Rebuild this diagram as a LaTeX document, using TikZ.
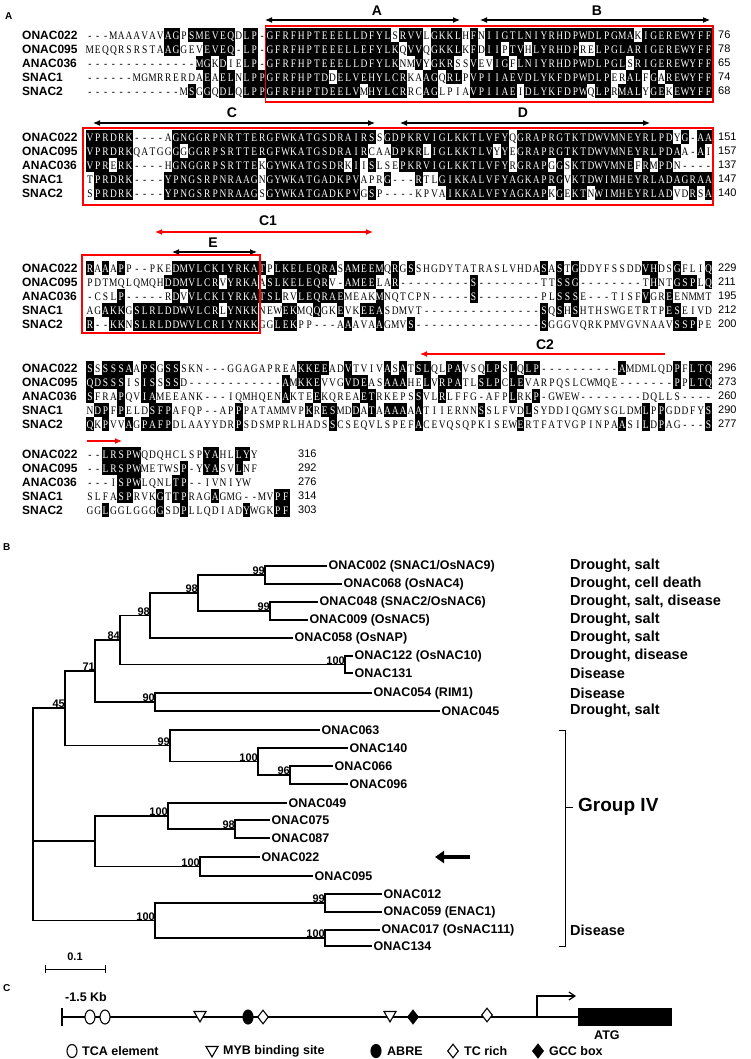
\documentclass[tikz,border=0pt]{standalone}
\usepackage{fontspec}
\setmainfont{Liberation Sans}
\newfontfamily\seqfont[FakeStretch=0.82]{Liberation Serif}
\usetikzlibrary{arrows.meta,shapes.geometric}
\newcount\sqcol
\newcount\sqmatch
\makeatletter
\def\sq@dash{-}
\def\storeseq#1#2{\sqcol=0 \def\sq@key{#1}\sq@store#2\relax}
\def\sq@store#1{%
  \ifx#1\relax
  \else
    \expandafter\xdef\csname s@\sq@key @\the\sqcol\endcsname{#1}%
    \global\advance\sqcol by 1
    \expandafter\sq@store
  \fi}
% #1 block key, #2 x0, #3 y0, #4 ncols
\def\drawblock#1#2#3#4{%
  \foreach \r in {1,...,5}{%
    \foreach \c in {0,...,#4}{%
      \expandafter\let\expandafter\cur\csname s@#1\r @\c\endcsname
      \ifx\cur\relax\else
        \global\sqmatch=0
        \foreach \rr in {1,...,5}{%
          \ifnum\rr=\r\else
            \expandafter\ifx\csname s@#1\rr @\c\endcsname\cur
              \global\advance\sqmatch by 1
            \fi
          \fi}%
        \ifx\cur\sq@dash \global\sqmatch=0 \fi
        \ifnum\sqmatch>0
          \fill[black] ({#2+\c*7.83},{#3+(\r-1)*14-7}) rectangle ++(7.83,14);
          \node[res,text=white] at ({#2+\c*7.83+3.915},{#3+(\r-1)*14+4.2}) {\cur};
        \else
          \node[res] at ({#2+\c*7.83+3.915},{#3+(\r-1)*14+4.2}) {\cur};
        \fi
      \fi}}}
\makeatother
% ---------- sequences ----------
\storeseq{a1}{---MAAAVAVAGPSMEVEQDLP-GFRFHPTEEELLDFYLSRVVLGKKLHFNIIGTLNIYRHDPWDLPGMAKIGEREWYFF}
\storeseq{a2}{MEQQRSRSTAAGGEVEVEQ-LP-GFRFHPTEEELLEFYLKQVVQGKKLKFDIIPTVHLYRHDPRELPGLARIGEREWYFF}
\storeseq{a3}{--------------MGKDIELP-GFRFHPTEEELLDFYLKNMVYGKRSSVEVIGFLNIYRHDPWDLPGLSRIGEREWYFF}
\storeseq{a4}{------MGMRRERDAEAELNLPPGFRFHPTDDELVEHYLCRKAAGQRLPVPIIAEVDLYKFDPWDLPERALFGAREWYFF}
\storeseq{a5}{------------MSGGQDLQLPPGFRFHPTDEELVMHYLCRRCAGLPIAVPIIAEIDLYKFDPWQLPRMALYGEKEWYFF}
\storeseq{b1}{VPRDRK----AGNGGRPNRTTERGFWKATGSDRAIRSSGDPKRVIGLKKTLVFYQGRAPRGTKTDWVMNEYRLPDYG-AA}
\storeseq{b2}{VPRDRKQATGGGGGGRPSRTTERGFWKATGSDRAIRCAADPKRLIGLKKTLVYYEGRAPRGTKTDWVMNEYRLPDAA-AI}
\storeseq{b3}{VPRERK----HGNGGRPSRTTEKGYWKATGSDRKIISLSEPKRVIGLKKTLVFYRGRAPGGSKTDWVMNEFRMPDN----}
\storeseq{b4}{TPRDRK----YPNGSRPNRAAGNGYWKATGADKPVAPRG---RTLGIKKALVFYAGKAPRGVKTDWIMHEYRLADAGRAA}
\storeseq{b5}{SPRDRK----YPNGSRPNRAAGSGYWKATGADKPVGSP----KPVAIKKALVFYAGKAPKGEKTNWIMHEYRLADVDRSA}
\storeseq{c1}{RAAAPP--PKEDMVLCKIYRKATPLKELEQRASAMEEMQRGSSHGDYTATRASLVHDASASTGDDYFSSDDVHDSGFLIQ}
\storeseq{c2}{PDTMQLQMQHDDMVLCRVYRKAASLKELEQRV-AMEELAR---------S--------TTSSG--------THNTGSPLQ}
\storeseq{c3}{-CSLP-----RDVVLCKIYRKATSLRVLEQRAEMEAKMNQTCPN-----S--------PLSSSE---TISFVGREENMMT}
\storeseq{c4}{AGAKKGSLRLDDWVLCRLYNKKNEWEKMQQGKEVKEEASDMVT---------------SQSHSHTHSWGETRTPESEIVD}
\storeseq{c5}{R--KKNSLRLDDWVLCRIYNKKGGLEKPP---AAAVAAGMVS----------------SGGGVQRKPMVGVNAAVSSPPE}
\storeseq{d1}{SSSSSAAPSGSSSKN---GGAGAPREAKKEEADVTVIVASATSLQLPAVSQLPSLQLP----------AMDMLQDPFLTQ}
\storeseq{d2}{QDSSSISISSSSD------------AMKKEVVGVDEASAAAHELVRPATLSLPCLEVARPQSLCWMQE-------PPLTQ}
\storeseq{d3}{SFRAPQVIAMEEANK---IQMHQENAKTEEKQREAETRKEPSSVLRLFFG-AFPLRKP-GWEW--------DQLLS-----}
\storeseq{d4}{NDPFPELDSFPAFQP--APPPATAMMVPKRESMDDATAAAAAATIIERNNSSLFVDLSYDDIQGMYSGLDMLPPGDDFYS}
\storeseq{d5}{QKPVVAGPAFPDLAAYYDRPSDSMPRLHADSSCSEQVLSPEFACEVQSQPKISEWERTFATVGPINPAASILDPAG---S}
\storeseq{e1}{--LRSPWQDQHCLSPYAHLLYY}
\storeseq{e2}{--LRSPWMETWSP-YYASVLNF}
\storeseq{e3}{---ISPWLQNLTP--IVNIYW}
\storeseq{e4}{SLFASPRVKGTTPRAGAGMG--MVPF}
\storeseq{e5}{GGLGGLGGGGSDPLLQDIADYWGKPF}
\begin{document}
\begin{tikzpicture}[x=1pt,y=-1pt,
  res/.style={font=\seqfont\fontsize{11.5}{12}\selectfont,inner sep=0pt,anchor=base},
  nm/.style={font=\bfseries\fontsize{12}{13}\selectfont,inner sep=0pt,anchor=west},
  num/.style={font=\fontsize{11}{12}\selectfont,inner sep=0pt,anchor=west},
  dom/.style={font=\bfseries\fontsize{14}{15}\selectfont,inner sep=0pt},
  panel/.style={font=\bfseries\fontsize{10}{11}\selectfont,inner sep=0pt,anchor=west},
  darr/.style={line width=1.1pt,{Latex[length=7pt,width=6pt]}-{Latex[length=7pt,width=6pt]}},
  rbox/.style={draw=red,line width=1.2pt},
  br/.style={line width=1.1pt},
  leaf/.style={font=\bfseries\fontsize{12.5}{13}\selectfont,inner sep=1.5pt,anchor=west},
  trait/.style={font=\bfseries\fontsize{14.5}{15}\selectfont,inner sep=0pt,anchor=west},
  bs/.style={font=\bfseries\fontsize{11}{12}\selectfont,inner sep=0pt},
  lg/.style={font=\bfseries\fontsize{12.5}{13}\selectfont,inner sep=0pt,anchor=west},
  sym/.style={line width=1.1pt,draw=black,fill=white,inner sep=0pt},
  tri/.style={sym,isosceles triangle,shape border rotate=-90,isosceles triangle apex angle=60,minimum width=12pt},
  circ/.style={sym,ellipse,minimum width=10pt,minimum height=14pt},
  dia/.style={sym,diamond,minimum width=11pt,minimum height=14pt},
]
\useasboundingbox[fill=white] (0,0) rectangle (750,1059);
% ================= Panel A =================
\node[panel] (pA) at (5,16) {A};
% block 1
\foreach \n/\t [count=\i from 0] in {a1/ONAC022,a2/ONAC095,a3/ANAC036,a4/SNAC1,a5/SNAC2}{
  \node[nm] (\n) at (22,35+\i*14) {\t};}
\drawblock{a}{86}{35}{79}
\foreach \n/\t [count=\i from 0] in {an1/76,an2/78,an3/65,an4/74,an5/68}{
  \node[num] (\n) at (718,35+\i*14) {\t};}
\draw[rbox] (265.5,26) rectangle (713,102);
\coordinate (A1) at (265,20); \coordinate (A2) at (460,20);
\draw[darr] (A1) -- (A2);
\node[dom] (lA) at (377,11) {A};
\coordinate (B1) at (480,20); \coordinate (B2) at (710,20);
\draw[darr] (B1) -- (B2);
\node[dom] (lB) at (597,11) {B};
% block 2
\foreach \n/\t [count=\i from 0] in {b1/ONAC022,b2/ONAC095,b3/ANAC036,b4/SNAC1,b5/SNAC2}{
  \node[nm] (\n) at (22,137+\i*14) {\t};}
\drawblock{b}{86}{137}{79}
\foreach \n/\t [count=\i from 0] in {bn1/151,bn2/157,bn3/137,bn4/147,bn5/140}{
  \node[num] (\n) at (718,137+\i*14) {\t};}
\draw[rbox] (83,128) rectangle (713,205);
\coordinate (C1a) at (93,123); \coordinate (C1b) at (375,123);
\draw[darr] (C1a) -- (C1b);
\node[dom] (lC) at (232,113) {C};
\coordinate (D1) at (400,123); \coordinate (D2) at (650,123);
\draw[darr] (D1) -- (D2);
\node[dom] (lD) at (523,113) {D};
% block 3
\foreach \n/\t [count=\i from 0] in {c1/ONAC022,c2/ONAC095,c3/ANAC036,c4/SNAC1,c5/SNAC2}{
  \node[nm] (\n) at (22,268+\i*14) {\t};}
\drawblock{c}{86}{268}{79}
\foreach \n/\t [count=\i from 0] in {cn1/229,cn2/211,cn3/195,cn4/212,cn5/200}{
  \node[num] (\n) at (718,268+\i*14) {\t};}
\draw[rbox] (82,255) rectangle (260,333);
\coordinate (E1) at (172,252); \coordinate (E2) at (257,252);
\draw[darr] (E1) -- (E2);
\node[dom] (lE) at (213,243) {E};
\coordinate (CA) at (155,232); \coordinate (CB) at (373,232);
\draw[darr,red] (CA) -- (CB);
\node[dom] (lC1) at (268,221) {C1};
% block 4
\foreach \n/\t [count=\i from 0] in {d1/ONAC022,d2/ONAC095,d3/ANAC036,d4/SNAC1,d5/SNAC2}{
  \node[nm] (\n) at (22,368+\i*14) {\t};}
\drawblock{d}{86}{368}{79}
\foreach \n/\t [count=\i from 0] in {dn1/296,dn2/273,dn3/260,dn4/290,dn5/277}{
  \node[num] (\n) at (718,368+\i*14) {\t};}
\coordinate (C2a) at (665,354); \coordinate (C2b) at (420,354);
\draw[line width=1.1pt,red,-{Latex[length=7pt,width=6pt]}] (C2a) -- (C2b);
\node[dom] (lC2) at (545,345) {C2};
% block 5
\foreach \n/\t [count=\i from 0] in {e1/ONAC022,e2/ONAC095,e3/ANAC036,e4/SNAC1,e5/SNAC2}{
  \node[nm] (\n) at (22,454+\i*14) {\t};}
\drawblock{e}{86}{454}{25}
\foreach \n/\t [count=\i from 0] in {en1/316,en2/292,en3/276,en4/314,en5/303}{
  \node[num] (\n) at (298,454+\i*14) {\t};}
\coordinate (C3a) at (87,441); \coordinate (C3b) at (122,441);
\draw[line width=1.1pt,red,-{Latex[length=7pt,width=6pt]}] (C3a) -- (C3b);
% ================= Panel B =================
\node[panel] (pB) at (3,547) {B};
\foreach \n/\y/\x/\t in {
 L1/566/327/{ONAC002 (SNAC1/OsNAC9)}, L2/584/342/{ONAC068 (OsNAC4)},
 L3/602/318/{ONAC048 (SNAC2/OsNAC6)}, L4/620/308/{ONAC009 (OsNAC5)},
 L5/638/293/{ONAC058 (OsNAP)}, L6/656/353/{ONAC122 (OsNAC10)},
 L7/673/353/{ONAC131}, L8/693/372/{ONAC054 (RIM1)}, L9/711/440/{ONAC045},
 L10/730/320/{ONAC063}, L11/748/348/{ONAC140}, L12/766/333/{ONAC066},
 L13/784/348/{ONAC096}, L14/803/287/{ONAC049}, L15/820/270/{ONAC075},
 L16/838/270/{ONAC087}, L17/857/260/{ONAC022}, L18/876/313/{ONAC095},
 L19/894/382/{ONAC012}, L20/912/382/{ONAC059 (ENAC1)},
 L21/930/380/{ONAC017 (OsNAC111)}, L22/946/372/{ONAC134}}{
  \node[leaf] (\n) at (\x,\y) {\t};}
\foreach \n/\t in {L1/{Drought, salt},L2/{Drought, cell death},L3/{Drought, salt, disease},
  L4/{Drought, salt},L5/{Drought, salt},L6/{Drought, disease},L7/{Disease},
  L8/{Disease},L9/{Drought, salt},L21/{Disease}}{
  \node[trait] (t\n) at (570,0 |- \n.west) {\t};}
% internal nodes
\coordinate (n1) at (265,575);
\coordinate (n2) at (270,611);
\coordinate (n3) at (198,593);
\coordinate (n4) at (150,615.5);
\coordinate (n5) at (345,664.5);
\coordinate (n6) at (120,640);
\coordinate (n7) at (155,702);
\coordinate (n8) at (95,671);
\coordinate (n9) at (290,775);
\coordinate (n10) at (258,761.5);
\coordinate (n11) at (170,745.75);
\coordinate (n12) at (65,708);
\coordinate (n13) at (235,829);
\coordinate (n14) at (168,816);
\coordinate (n15) at (200,866.5);
\coordinate (n16) at (95,841);
\coordinate (n17) at (325,903);
\coordinate (n18) at (325,938);
\coordinate (n19) at (155,920.5);
\coordinate (n20) at (33,800);
\begin{scope}[br]
\draw (n1) |- (L1.west); \draw (n1) |- (L2.west);
\draw (n2) |- (L3.west); \draw (n2) |- (L4.west);
\draw (n3) |- (n1); \draw (n3) |- (n2);
\draw (n4) |- (n3); \draw (n4) |- (L5.west);
\draw (n5) |- (L6.west); \draw (n5) |- (L7.west);
\draw (n6) |- (n4); \draw (n6) |- (n5);
\draw (n7) |- (L8.west); \draw (n7) |- (L9.west);
\draw (n8) |- (n6); \draw (n8) |- (n7);
\draw (n9) |- (L12.west); \draw (n9) |- (L13.west);
\draw (n10) |- (L11.west); \draw (n10) |- (n9);
\draw (n11) |- (L10.west); \draw (n11) |- (n10);
\draw (n12) |- (n8); \draw (n12) |- (n11);
\draw (n13) |- (L15.west); \draw (n13) |- (L16.west);
\draw (n14) |- (L14.west); \draw (n14) |- (n13);
\draw (n15) |- (L17.west); \draw (n15) |- (L18.west);
\draw (n16) |- (n14); \draw (n16) |- (n15);
\draw (n17) |- (L19.west); \draw (n17) |- (L20.west);
\draw (n18) |- (L21.west); \draw (n18) |- (L22.west);
\draw (n19) |- (n17); \draw (n19) |- (n18);
\draw (n20) |- (n12); \draw (n20) |- (n16); \draw (n20) |- (n19);
\end{scope}
\foreach \n/\t in {n1/99,n3/98,n4/98,n2/99,n6/84,n5/100,n8/71,n7/90,n12/45,n11/99,n10/100,n9/96,n14/100,n13/98,n15/100,n17/99,n19/100,n18/100}{
  \node[bs,anchor=south east] at (\n) {\t};}
\coordinate (ar1) at (470,857); \coordinate (ar2) at (435,857);
\draw[line width=4pt,-{Triangle[length=9pt,width=12pt]}] (ar1) -- (ar2);
\coordinate (g1) at (565,730); \coordinate (g2) at (565,946);
\draw[line width=1pt] ([xshift=-6pt]g1) -- (g1) -- (g2) -- ([xshift=-6pt]g2);
\coordinate (gm) at (565,807);
\draw[line width=1pt] (gm) -- ++(8,0);
\node[font=\bfseries\fontsize{19}{20}\selectfont,anchor=west,inner sep=0pt] (gIV) at (578,807) {Group IV};
\coordinate (s1) at (45,969); \coordinate (s2) at (105,969);
\draw[line width=1pt] (s1) -- (s2);
\draw[line width=1pt] (s1) ++(0,-4) -- ++(0,8);
\draw[line width=1pt] (s2) ++(0,-4) -- ++(0,8);
\node[bs] (sc) at (75,957) {0.1};
% ================= Panel C =================
\node[panel] (pC) at (3,988) {C};
\node[lg] (kb) at (65,997) {-1.5 Kb};
\coordinate (p0) at (62,1017); \coordinate (p1) at (580,1017);
\draw[line width=2pt] (p0) -- (p1);
\draw[line width=2pt] (62,1008) -- (62,1026);
\node[circ] (o1) at (90,1017) {};
\node[circ] (o2) at (105,1017) {};
\node[tri] (t1) at (200,1015) {};
\node[tri] (t2) at (390,1015) {};
\node[circ,fill=black] (f1) at (248,1017) {};
\node[dia] (dd1) at (263,1017) {};
\node[dia,fill=black] (dd2) at (413,1017) {};
\node[dia] (dd3) at (487,1015) {};
\node[fill=black,minimum width=94pt,minimum height=18pt,inner sep=0pt,anchor=west] (atg) at (578,1017) {};
\node[lg] (atgl) at (594,1035) {ATG};
\coordinate (ba0) at (537,1017); \coordinate (ba1) at (576,996);
\draw[line width=1.2pt,-{Straight Barb[length=6pt,width=8pt]}] (ba0) |- (ba1);
\node[circ,minimum height=13pt] (k1) at (72,1051) {};
\node[lg] (kt1) at (82,1051) {TCA element};
\node[tri] (k2) at (212,1050) {};
\node[lg] (kt2) at (223,1051) {MYB binding site};
\node[circ,fill=black,minimum height=13pt] (k3) at (376,1051) {};
\node[lg] (kt3) at (387,1051) {ABRE};
\node[dia] (k4) at (453,1051) {};
\node[lg] (kt4) at (464,1051) {TC rich};
\node[dia,fill=black] (k5) at (538,1051) {};
\node[lg] (kt5) at (549,1051) {GCC box};
\end{tikzpicture}
\end{document}
